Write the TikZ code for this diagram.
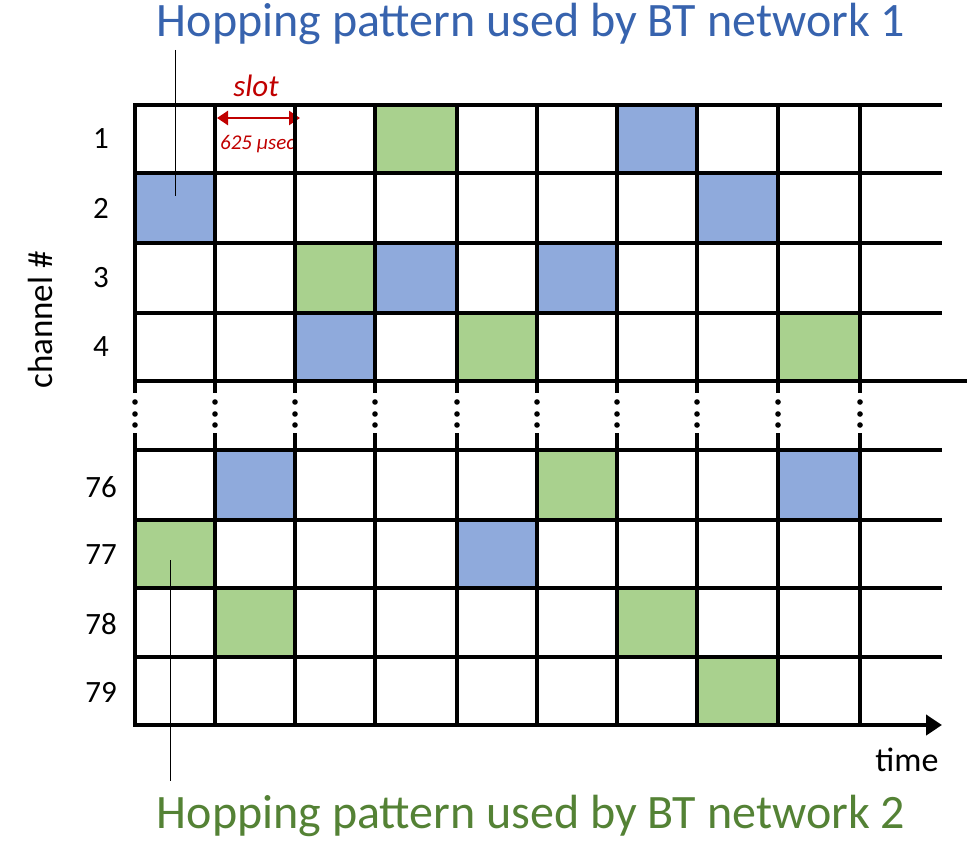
\documentclass[tikz,border=0pt]{standalone}
\usepackage{fontspec}
\setmainfont{Carlito}
\usetikzlibrary{arrows.meta}
\definecolor{cblue}{HTML}{8FAADC}
\definecolor{cgreen}{HTML}{A9D18E}
\definecolor{tblue}{HTML}{3763AE}
\definecolor{tgreen}{HTML}{548235}
\definecolor{cred}{HTML}{C00000}
\begin{document}
\begin{tikzpicture}[x=1pt,y=-1pt,
  gridline/.style={line width=4pt,black},
  leader/.style={line width=1pt,black},
  rowlab/.style={font=\fontsize{31}{34}\selectfont,anchor=center},
  title/.style={font=\fontsize{48}{52}\selectfont,inner sep=0pt},
  bcell/.style={fill=cblue,draw=none},
  gcell/.style={fill=cgreen,draw=none}]
\useasboundingbox (0,0) rectangle (973,840);
% column edges
\def\xs{{135,215,295,375,457,537,617,697,778,860,940}}
\def\ys{{105,173,243,313,381,450,520,588,657,725}}
% cells: column, row index
\foreach \c/\r/\s in {3/0/gcell,6/0/bcell,0/1/bcell,7/1/bcell,2/2/gcell,3/2/bcell,5/2/bcell,
  2/3/bcell,4/3/gcell,8/3/gcell,1/5/bcell,5/5/gcell,8/5/bcell,0/6/gcell,4/6/bcell,
  1/7/gcell,6/7/gcell,7/8/gcell}{
  \pgfmathsetmacro{\xa}{\xs[\c]+2}
  \pgfmathsetmacro{\xb}{\xs[\c+1]-2}
  \pgfmathsetmacro{\ya}{\ys[\r]+2}
  \pgfmathsetmacro{\yb}{\ys[\r+1]-2}
  \path[\s] (\xa,\ya) rectangle (\xb,\yb);
}
% slot annotation
\node[font=\fontsize{31}{34}\selectfont\itshape,text=cred] (slot) at (256,86) {slot};
\node[font=\fontsize{21}{24}\selectfont\itshape,text=cred,anchor=west,inner sep=0pt] (usec) at (220,144) {625 μsec};
\coordinate (sa) at (217,118);
\coordinate (sb) at (300,118);
\draw[cred,line width=2.5pt,{Triangle[length=11pt,width=14pt]}-{Triangle[length=11pt,width=14pt]}] (sa) -- (sb);
% vertical lines
\foreach \x in {135,215,295,375,457,537,617,697,778,860}{
  \draw[gridline] (\x,105) -- (\x,393);
  \draw[gridline] (\x,433) -- (\x,725);
  \foreach \yy in {402,414,425}{\fill (\x,\yy) circle (2.8);}
}
% horizontal lines
\foreach \y in {105,173,243,313,450,520,588,657}{
  \draw[gridline] (133,\y) -- (942,\y);
}
\draw[gridline] (133,381) -- (967,381);
\coordinate (ax0) at (133,725);
\coordinate (ax1) at (942,725);
\draw[gridline,-{Triangle[length=16pt,width=20pt]}] (ax0) -- (ax1);
% row labels
\foreach \lab/\y in {1/139,2/208,3/278,4/347,76/487,77/555,78/624,79/692}{
  \node[rowlab] at (101,\y) {\lab};
}
\node[rotate=90,font=\fontsize{35}{38}\selectfont] (chan) at (40,320) {channel \#};
\node[font=\fontsize{34}{38}\selectfont,anchor=east] (time) at (942,760) {time};
% titles
\node[title,text=tblue] (t1) at (531,24) {Hopping pattern used by BT network 1};
\node[title,text=tgreen] (t2) at (531,816) {Hopping pattern used by BT network 2};
\coordinate (p1) at (175,196);
\coordinate (p2) at (170,560);
\draw[leader] (175,50) -- (p1);
\draw[leader] (p2) -- (170,781);
\end{tikzpicture}
\end{document}
